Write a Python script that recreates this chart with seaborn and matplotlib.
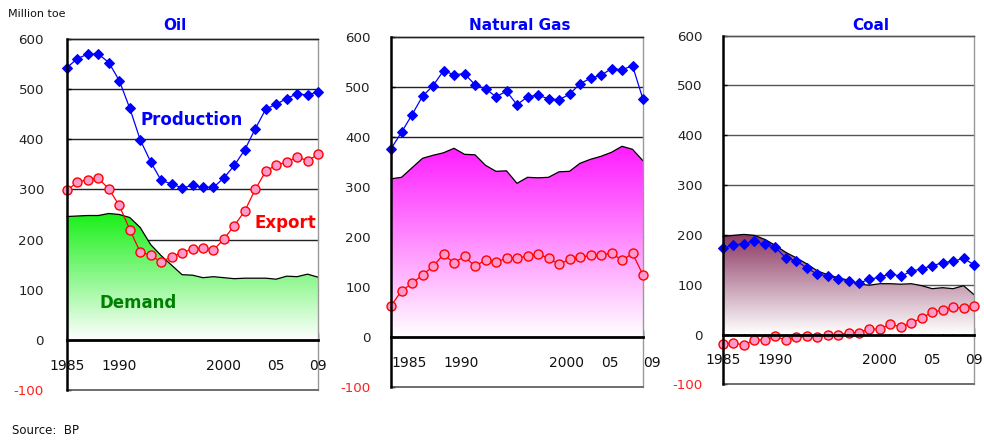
import numpy as np
import pandas as pd
import matplotlib
matplotlib.use('Agg')
import matplotlib.pyplot as plt
from matplotlib.colors import LinearSegmentedColormap
import seaborn as sns

years = list(range(1985, 2010))

oil_production = [543, 561, 570, 570, 553, 517, 462, 399, 355, 318, 311, 303, 308, 304, 304,
                  323, 348, 379, 421, 460, 470, 481, 491, 488, 495]
oil_export = [298, 315, 319, 322, 301, 268, 220, 175, 169, 155, 166, 174, 181, 183, 179,
              201, 228, 257, 300, 336, 349, 354, 365, 357, 370]
oil_demand = [246, 247, 248, 248, 252, 250, 244, 224, 190, 168, 149, 130, 129, 124, 126,
              124, 122, 123, 123, 123, 121, 127, 126, 131, 125]

gas_production = [376, 409, 444, 481, 502, 532, 524, 526, 504, 496, 480, 491, 464, 480, 483,
                  476, 474, 485, 506, 517, 523, 536, 534, 542, 475]
gas_export = [62, 92, 107, 124, 141, 165, 148, 161, 141, 154, 150, 157, 157, 162, 165,
              158, 145, 155, 159, 163, 163, 168, 153, 167, 124]
gas_demand = [316, 319, 338, 357, 363, 368, 377, 365, 364, 343, 331, 332, 307, 319, 318,
              319, 330, 331, 347, 355, 361, 369, 381, 375, 352]

coal_production = [173, 180, 182, 187, 181, 175, 154, 148, 134, 121, 118, 112, 108, 103, 111,
                   115, 122, 117, 127, 132, 138, 144, 147, 153, 140]
coal_export = [-19, -17, -21, -11, -11, -4, -11, -5, -4, -5, -1, 0, 3, 4, 11,
               11, 21, 15, 23, 33, 45, 49, 55, 53, 58]
coal_demand = [197, 199, 201, 199, 191, 179, 165, 154, 142, 128, 120, 114, 109, 101, 99,
               102, 102, 101, 102, 98, 92, 94, 92, 98, 80]

yticks = [-100, 0, 100, 200, 300, 400, 500, 600]
ytick_labels = ['-100', '0', '100', '200', '300', '400', '500', '600']
xlabel_years = [1985, 1990, 2000, 2005, 2009]
xlabel_texts = ['1985', '1990', '2000', '05', '09']
titles = ['Oil', 'Natural Gas', 'Coal']

sns.set_style('white')
plt.rcParams['font.family'] = ['DejaVu Sans']

fig = plt.figure(figsize=(9.84, 4.40), dpi=100)

W, H = 984.0, 440.0


def make_axes(left, right, top, bottom):
    return fig.add_axes([left / W, 1 - bottom / H, (right - left) / W, (bottom - top) / H])


def gradient_fill(ax, x, y, color):
    top = max(y)
    cmap = LinearSegmentedColormap.from_list('g', ['white', color])
    grad = np.linspace(0, 1, 256).reshape(-1, 1)
    im = ax.imshow(grad, cmap=cmap, aspect='auto', origin='lower',
                   extent=[x[0], x[-1], 0, top], zorder=1, interpolation='bilinear')
    poly = ax.fill_between(x, 0, y, facecolor='none', edgecolor='none', zorder=1)
    im.set_clip_path(poly.get_paths()[0], transform=ax.transData)


panels = [
    dict(box=(67, 318, 39, 390), prod=oil_production, exp=oil_export, dem=oil_demand,
         color='#18F018', grid='#222222', ha='center', pad=16.5),
    dict(box=(391, 643, 36.7, 387), prod=gas_production, exp=gas_export, dem=gas_demand,
         color='#FF1CFF', grid='#222222', ha='left', pad=14.5),
    dict(box=(723, 974, 35.7, 384.3), prod=coal_production, exp=coal_export, dem=coal_demand,
         color='#8A3560', grid='#555555', ha='center', pad=14.5),
]

for p in panels:
    ax = make_axes(*p['box'])
    df = pd.DataFrame({'year': years, 'production': p['prod'], 'export': p['exp'],
                       'demand': p['dem']})
    for gy in yticks[2:]:
        ax.axhline(gy, color=p['grid'], lw=1.0, zorder=0.5)
    gradient_fill(ax, years, p['dem'], p['color'])
    sns.lineplot(data=df, x='year', y='demand', ax=ax, color='black', lw=0.9, zorder=2)
    sns.lineplot(data=df, x='year', y='export', ax=ax, color='#FF0000', lw=0.9,
                 marker='o', markersize=6.5, markerfacecolor='#FF99CC',
                 markeredgecolor='#FF0000', markeredgewidth=1.0, zorder=3)
    sns.lineplot(data=df, x='year', y='production', ax=ax, color='#0000FF', lw=0.9,
                 marker='D', markersize=5.5, markerfacecolor='#0000FF',
                 markeredgecolor='#0000FF', zorder=4)
    for ln in ax.lines:
        ln.set_clip_on(False)
    ax.set_xlim(1985, 2009)
    ax.set_ylim(-100, 600)
    ax.set_xlabel('')
    ax.set_ylabel('')
    ax.set_yticks(yticks)
    ax.set_yticklabels(ytick_labels)
    ax.get_yticklabels()[0].set_color('#FF0000')
    ax.tick_params(axis='y', direction='in', length=3, width=1, color='black',
                   pad=p['pad'], labelsize=9.6, labelcolor='#222222', left=True)
    ax.get_yticklabels()[0].set_color('#FF2020')
    ax.set_xticks(years)
    ax.set_xticklabels([])
    ax.tick_params(axis='x', direction='in', length=5, width=1, color='black', bottom=True)
    ax.spines['bottom'].set_position(('data', 0))
    ax.spines['bottom'].set_linewidth(2.0)
    ax.spines['bottom'].set_color('black')
    ax.spines['bottom'].set_zorder(5)
    ax.spines['left'].set_linewidth(1.8)
    ax.spines['left'].set_color('black')
    ax.spines['left'].set_zorder(5)
    ax.spines['right'].set_color('#999999')
    ax.spines['right'].set_linewidth(1.0)
    ax.spines['top'].set_color(p['grid'])
    ax.spines['top'].set_linewidth(1.0)
    ax.axhline(-100, color='#555555', lw=1.2, clip_on=False, zorder=5)
    for yr, lab in zip(xlabel_years, xlabel_texts):
        ax.text(yr, -52, lab, ha=p['ha'], va='center', fontsize=10,
                color='#111111', clip_on=False)

fig.text(175 / W, 1 - 26 / H, 'Oil', ha='center', va='center', fontsize=11,
         fontweight='bold', color='#0000FF')
fig.text(519.5 / W, 1 - 25.5 / H, 'Natural Gas', ha='center', va='center', fontsize=11,
         fontweight='bold', color='#0000FF')
fig.text(871 / W, 1 - 25.5 / H, 'Coal', ha='center', va='center', fontsize=11,
         fontweight='bold', color='#0000FF')

fig.text(191.5 / W, 1 - 120 / H, 'Production', ha='center', va='center', fontsize=12,
         fontweight='bold', color='#0000FF')
fig.text(285 / W, 1 - 223 / H, 'Export', ha='center', va='center', fontsize=12,
         fontweight='bold', color='#FF0000')
fig.text(138 / W, 1 - 303 / H, 'Demand', ha='center', va='center', fontsize=12,
         fontweight='bold', color='#008000')

fig.text(8 / W, 1 - 14 / H, 'Million toe', ha='left', va='center', fontsize=8,
         color='#111111')
fig.text(12 / W, 1 - 430 / H, 'Source:  BP', ha='left', va='center', fontsize=8.5,
         color='#111111')

fig.savefig('out.png', dpi=100)
